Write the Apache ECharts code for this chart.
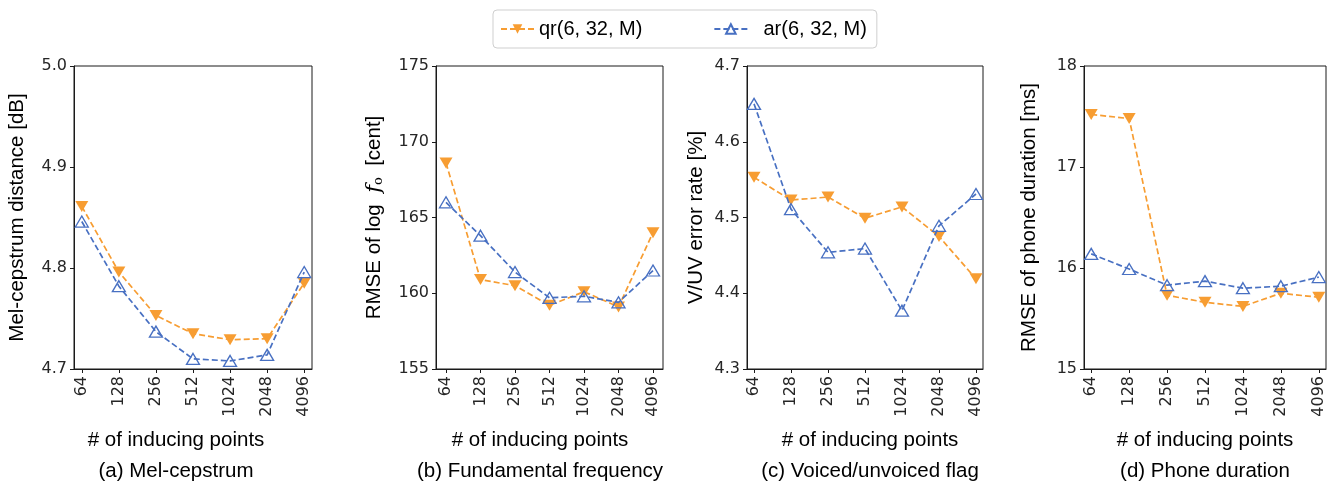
<!DOCTYPE html>
<html>
<head>
<meta charset="utf-8">
<script src="https://cdn.jsdelivr.net/npm/echarts@6/dist/echarts.min.js"></script>
<style>
  html, body { margin: 0; padding: 0; background: #fff; }
  #chart { width: 1333px; height: 485px; }
</style>
</head>
<body>
<div id="chart"></div>
<script>
// Number of inducing points on the x axis of every panel
const categories = ['64', '128', '256', '512', '1024', '2048', '4096'];

// (a) Mel-cepstrum distance [dB]
const melQr = [4.861, 4.796, 4.753, 4.735, 4.729, 4.730, 4.785];
const melAr = [4.846, 4.782, 4.737, 4.710, 4.708, 4.714, 4.796];
// (b) RMSE of log F0 [cent]
const f0Qr = [168.6, 160.9, 160.5, 159.2, 160.1, 159.1, 164.0];
const f0Ar = [166.0, 163.8, 161.4, 159.7, 159.8, 159.4, 161.5];
// (c) V/UV error rate [%]
const vuvQr = [4.553, 4.523, 4.527, 4.499, 4.514, 4.475, 4.419];
const vuvAr = [4.650, 4.511, 4.454, 4.459, 4.377, 4.489, 4.531];
// (d) RMSE of phone duration [ms]
const durQr = [17.52, 17.48, 15.73, 15.66, 15.62, 15.75, 15.71];
const durAr = [16.14, 15.99, 15.83, 15.87, 15.80, 15.82, 15.91];

// y-axis tick ranges
const yMin = [4.7, 155, 4.3, 15];
const yMax = [5.0, 175, 4.7, 18];
const yStep = [0.1, 5, 0.1, 1];
const yDigits = [1, 0, 1, 0];

const seriesNames = ['qr(6, 32, M)', 'ar(6, 32, M)'];
const panelTitles = ['(a) Mel-cepstrum', '(b) Fundamental frequency', '(c) Voiced/unvoiced flag', '(d) Phone duration'];
const xTitle = '# of inducing points';

const panels = [
  { qr: melQr, ar: melAr, yName: 'Mel-cepstrum distance [dB]' },
  { qr: f0Qr, ar: f0Ar, yName: '{t|RMSE of log  }{f|f}{s|o}{t|  [cent]}' },
  { qr: vuvQr, ar: vuvAr, yName: 'V/UV error rate [%]' },
  { qr: durQr, ar: durAr, yName: 'RMSE of phone duration [ms]' }
];

// layout of the four plot boxes
const boxes = [
  { left: 74, right: 312, pad: 0.21, nameGap: 46, cx: 176 },
  { left: 436, right: 663, pad: 0.29, nameGap: 51, cx: 540 },
  { left: 747, right: 983, pad: 0.19, nameGap: 40, cx: 870 },
  { left: 1084, right: 1326, pad: 0.19, nameGap: 44, cx: 1205 }
];
const TOP = 66, BOTTOM = 369, W = 1333, H = 485;

const ORANGE = '#f79d32';
const BLUE = '#4870c2';
const SANS = '"Liberation Sans", Arial, Helvetica, sans-serif';
const TICKFONT = '"DejaVu Sans", sans-serif';
const INK = '#262626';
const FRAME = '#1a1a1a';

const tickIdx = categories.map((_, i) => i);

const grid = [], xAxis = [], yAxis = [], series = [], graphic = [];

panels.forEach((p, i) => {
  const b = boxes[i];
  grid.push({
    left: b.left, right: W - b.right, top: TOP, bottom: H - BOTTOM,
    show: true, borderColor: FRAME, borderWidth: 1, backgroundColor: 'transparent'
  });
  xAxis.push({
    gridIndex: i, type: 'value', min: -b.pad, max: categories.length - 1 + b.pad,
    axisLine: { show: true, onZero: false, lineStyle: { color: FRAME, width: 1 } },
    axisTick: { show: true, inside: false, length: 4, customValues: tickIdx, lineStyle: { color: FRAME } },
    axisLabel: {
      show: true, rotate: 90, margin: 7, customValues: tickIdx,
      formatter: v => categories[Math.round(v)],
      fontFamily: TICKFONT, fontSize: 16, color: INK
    },
    splitLine: { show: false }
  });
  yAxis.push({
    gridIndex: i, type: 'value', min: yMin[i], max: yMax[i], interval: yStep[i],
    name: p.yName, nameLocation: 'middle', nameGap: b.nameGap, nameRotate: 90,
    nameTextStyle: {
      fontFamily: SANS, fontSize: 20.5, color: '#000',
      rich: {
        t: { fontFamily: SANS, fontSize: 20.5, color: '#000' },
        f: { fontFamily: '"DejaVu Serif", serif', fontStyle: 'italic', fontSize: 21, color: '#000' },
        s: { fontFamily: '"DejaVu Serif", serif', fontSize: 13, color: '#000', padding: [8, 0, 0, 0] }
      }
    },
    axisLine: { show: true, onZero: false, lineStyle: { color: FRAME, width: 1 } },
    axisTick: { show: true, inside: false, length: 4, lineStyle: { color: FRAME } },
    axisLabel: {
      margin: 7, fontFamily: TICKFONT, fontSize: 16, color: INK,
      formatter: v => v.toFixed(yDigits[i])
    },
    splitLine: { show: false }
  });
  series.push({
    name: seriesNames[0], type: 'line', xAxisIndex: i, yAxisIndex: i,
    data: p.qr.map((v, k) => [k, v]),
    symbol: 'triangle', symbolRotate: 180, symbolSize: [13, 11],
    itemStyle: { color: ORANGE },
    lineStyle: { color: ORANGE, width: 1.7, type: [6, 3] },
    z: 2
  });
  series.push({
    name: seriesNames[1], type: 'line', xAxisIndex: i, yAxisIndex: i,
    data: p.ar.map((v, k) => [k, v]),
    symbol: 'triangle', symbolSize: [13, 11],
    itemStyle: { color: 'none', borderColor: BLUE, borderWidth: 1.3 },
    lineStyle: { color: BLUE, width: 1.7, type: [6, 3] },
    z: 3
  });
  graphic.push({
    type: 'text', x: b.cx, y: 440,
    style: { text: xTitle, font: '20.5px ' + SANS, fill: '#000', textAlign: 'center', textVerticalAlign: 'middle' }
  });
  graphic.push({
    type: 'text', x: b.cx, y: 471,
    style: { text: panelTitles[i], font: '20.5px ' + SANS, fill: '#000', textAlign: 'center', textVerticalAlign: 'middle' }
  });
});

const chart = echarts.init(document.getElementById('chart'), null, { renderer: 'canvas' });
chart.setOption({
  animation: false,
  backgroundColor: '#fff',
  legend: {
    data: seriesNames,
    left: 493, top: 10,
    padding: [9, 10, 9, 7],
    itemWidth: 33, itemHeight: 12, itemGap: 71,
    borderColor: '#cfcfcf', borderWidth: 1, borderRadius: 4,
    backgroundColor: '#fff',
    formatter: n => (n === seriesNames[1] ? '  ' + n : n),
    textStyle: { fontFamily: SANS, fontSize: 20, color: '#000' }
  },
  grid, xAxis, yAxis, series, graphic
});
</script>
</body>
</html>
